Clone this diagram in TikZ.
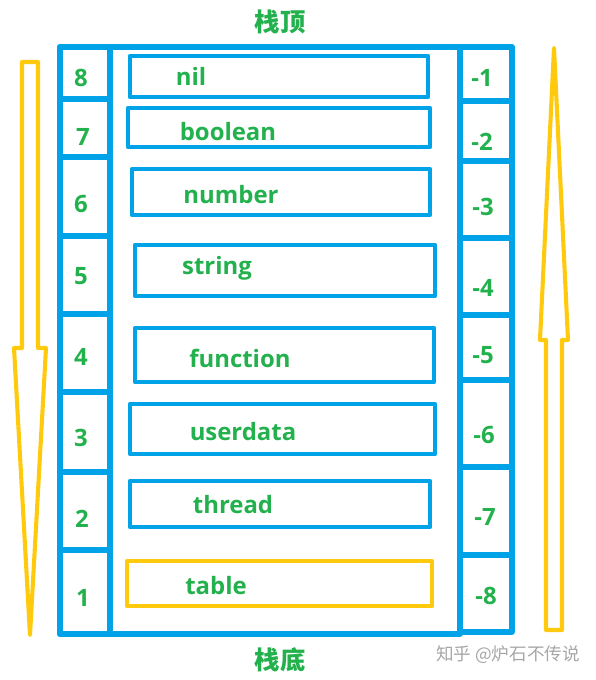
\documentclass[tikz,border=0pt]{standalone}
\usepackage{fontspec}
\setmainfont{Open Sans}
\newfontfamily\cjkfont{Noto Sans CJK SC}
\usetikzlibrary{positioning}
\definecolor{stkblue}{RGB}{0,162,232}
\definecolor{stkgold}{RGB}{255,201,14}
\definecolor{stkgreen}{RGB}{34,177,76}
\tikzset{
  frame/.style={draw=stkblue, line width=3.6pt},
  tbox/.style={draw=stkblue, line width=3.4pt},
  goldbox/.style={draw=stkgold, line width=3.4pt},
  lbl/.style={text=stkgreen, font=\fontsize{17}{19}\selectfont\bfseries, inner sep=0pt},
  num/.style={lbl},
  head/.style={text=stkgreen, font=\fontsize{18}{20}\selectfont\cjkfont\bfseries, inner sep=0pt},
  wmark/.style={text=black!35, font=\fontsize{12.5}{14}\selectfont\cjkfont, inner sep=0pt},
  blockarrow/.style={draw=stkgold, line width=2.9pt},
  every picture/.append style={line join=round}
}

\begin{document}
\begin{tikzpicture}[x=0.025cm,y=-0.025cm]
  \useasboundingbox (0,0) rectangle (596,680);
  % stack frame: index columns and slot area
  \draw[frame] (60,47) rectangle (460,634);
  \draw[frame] (60,47) rectangle (110,634);
  \draw[frame] (460,47) rectangle (512,632);
  \foreach \y in {99,157,236,314,392,472,550} {
    \draw[frame] (60,\y) -- (110,\y);
  }
  \foreach \y in {101,161,238,315,380,467,555} {
    \draw[frame] (460,\y) -- (512,\y);
  }
  % positive and negative indices
  \foreach \n/\x/\y in {8/81/78, 7/83/137, 6/81/204, 5/81/276,
                        4/81/357, 3/81/438, 2/82/519, 1/83/598} {
    \node[num] (l\n) at (\x,\y) {\n};
  }
  \foreach \n/\x/\y in {1/482/78, 2/482/142, 3/483/207, 4/483/288,
                        5/483/355, 6/484/435, 7/485/517, 8/486/596} {
    \node[num] (r\n) at (\x,\y) {-\n};
  }
  % value types
  \foreach \nm/\xa/\ya/\xb/\yb/\tx/\ty in {
      nil/130/56/428/97/191/76,
      boolean/128/108/430/147/228/132,
      number/132/169/430/215/231/195,
      string/135/245/435/296/217/268,
      function/135/328/434/382/240/358,
      userdata/130/404/435/454/243/432,
      thread/130/481/430/527/233/505} {
    \draw[tbox] (\xa,\ya) rectangle (\xb,\yb);
    \node[lbl] (t-\nm) at (\tx,\ty) {\nm};
  }
  \draw[goldbox] (127,561) rectangle (432,606);
  \node[lbl] (t-table) at (216,586) {table};
  \node[head] (top) at (280,22) {栈顶};
  \node[head] (bottom) at (280,660) {栈底};
  \node[wmark] (wm) at (508,655) {知乎 @炉石不传说};
  % direction arrows
  \draw[blockarrow] (22,62) -- (38,62) -- (38,348) -- (46,348)
    -- (30,635) -- (14,348) -- (22,348) -- cycle;
  \draw[blockarrow] (554,48) -- (568,340) -- (562,340) -- (562,630)
    -- (546,630) -- (546,340) -- (540,340) -- cycle;
\end{tikzpicture}
\end{document}
